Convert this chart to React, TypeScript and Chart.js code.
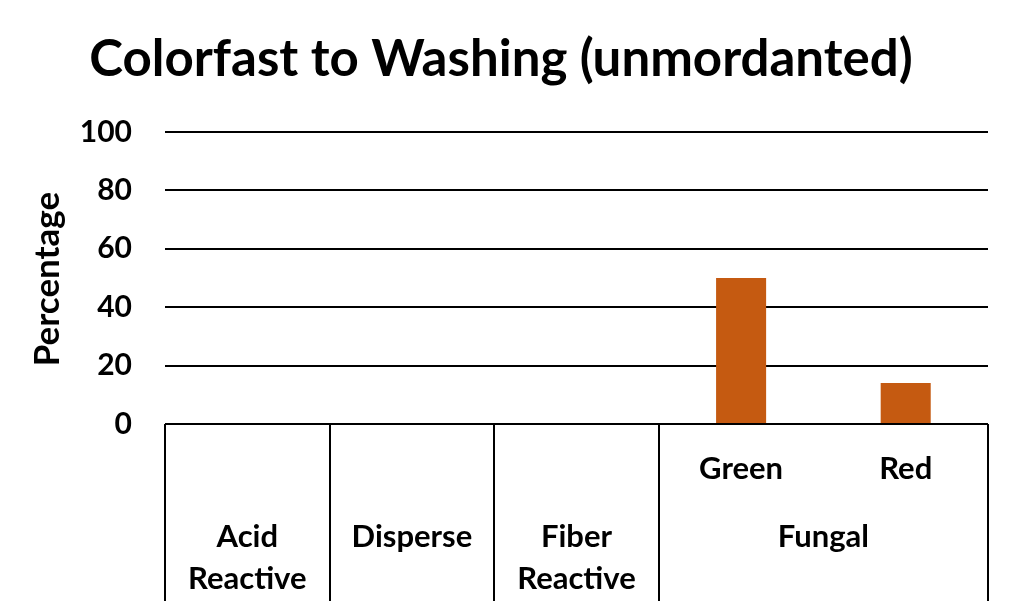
import React, { useEffect, useRef } from "react";
import { Chart, registerables } from "chart.js";

Chart.register(...registerables);

const titleText = "Colorfast to Washing (unmordanted)";
const yAxisTitle = "Percentage";
const innerLabels = ["", "", "", "Green", "Red"];
const values = [0, 0, 0, 50, 14];
const groupLabels = [["Acid", "Reactive"], ["Disperse"], ["Fiber", "Reactive"], ["Fungal"]];
const groupSpans = [1, 1, 1, 2];
const yTicks = [0, 20, 40, 60, 80, 100];

const FONT = "Lato";

export default function App() {
  const ref = useRef<HTMLCanvasElement>(null);
  useEffect(() => {
    document.body.style.margin = "0";
    const canvas = ref.current!;
    const groupPlugin = {
      id: "groups",
      afterDraw(chart: any) {
        const ctx = chart.ctx;
        const xs = chart.scales.x;
        const area = chart.chartArea;
        const slot = (xs.getPixelForValue(1) - xs.getPixelForValue(0));
        const edge = (i: number) => xs.getPixelForValue(0) - slot / 2 + i * slot;
        ctx.save();
        ctx.strokeStyle = "#000";
        ctx.lineWidth = 2;
        let idx = 0;
        const bounds = [0];
        groupSpans.forEach((s) => { idx += s; bounds.push(idx); });
        bounds.forEach((b) => {
          const x = Math.round(edge(b));
          ctx.beginPath();
          ctx.moveTo(x, area.bottom);
          ctx.lineTo(x, 601);
          ctx.stroke();
        });
        ctx.fillStyle = "#000";
        ctx.font = `bold 31px ${FONT}`;
        ctx.textAlign = "center";
        ctx.textBaseline = "middle";
        let start = 0;
        groupLabels.forEach((lines, g) => {
          const cx = (edge(start) + edge(start + groupSpans[g])) / 2;
          lines.forEach((ln, k) => ctx.fillText(ln, cx, 537 + k * 42));
          start += groupSpans[g];
        });
        ctx.font = `bold 51px ${FONT}`;
        ctx.textBaseline = "alphabetic";
        ctx.fillText(titleText, 501, 76);
        ctx.translate(48, 279);
        ctx.rotate(-Math.PI / 2);
        ctx.textBaseline = "middle";
        ctx.font = `bold 35px ${FONT}`;
        ctx.fillText(yAxisTitle, 0, 0);
        ctx.restore();
      },
    };
    const chart = new Chart(canvas, {
      type: "bar",
      data: {
        labels: innerLabels,
        datasets: [
          {
            data: values,
            backgroundColor: "#C55A11",
            borderWidth: 0,
            barPercentage: 0.304,
            categoryPercentage: 1,
          },
        ],
      },
      options: {
        animation: false,
        responsive: false,
        layout: { padding: { top: 132, right: 36, left: 0, bottom: 0 } },
        plugins: { legend: { display: false }, title: { display: false }, tooltip: { enabled: false } },
        scales: {
          x: {
            grid: { display: false, drawTicks: false },
            border: { display: false },
            ticks: { color: "#000", font: { family: FONT, size: 31, weight: "bold" }, padding: 26, maxRotation: 0 },
            afterFit(scale: any) { scale.height = 187; },
          },
          y: {
            min: 0,
            max: 100,
            afterBuildTicks(scale: any) { scale.ticks = yTicks.map((v) => ({ value: v })); },
            grid: { color: "#000", lineWidth: 2, drawTicks: false },
            border: { display: false },
            ticks: { color: "#000", font: { family: FONT, size: 30, weight: "bold" }, padding: 33 },
            afterFit(scale: any) { scale.width = 165; },
          },
        },
      },
      plugins: [groupPlugin],
    });
    return () => chart.destroy();
  }, []);
  return (
    <div style={{ position: "fixed", left: 0, top: 0, width: 1024, height: 611, background: "#fff" }}>
      <canvas ref={ref} width={1024} height={611} />
    </div>
  );
}
